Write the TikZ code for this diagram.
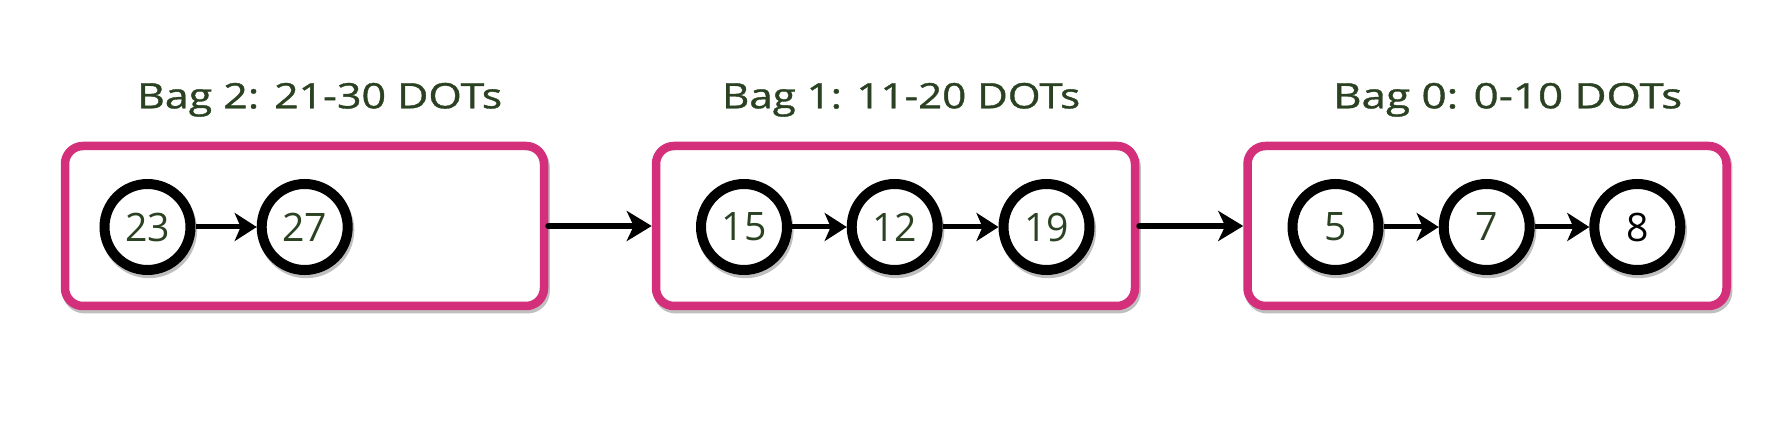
\documentclass[tikz,border=0pt]{standalone}
\usepackage{fontspec}
\setmainfont{Open Sans}
\newfontfamily\bagtitlefont[FakeBold=1]{Open Sans}
\usetikzlibrary{arrows.meta}
\definecolor{bagpink}{HTML}{D42F7A}
\definecolor{txtgreen}{HTML}{2A4222}
\begin{document}
\begin{tikzpicture}[x=0.5pt,y=-0.5pt,
  softshadow/.style={preaction={draw=black, draw opacity=0.25, transform canvas={xshift=0.8pt,yshift=-1.6pt}}},
  bagbox/.style={draw=bagpink, line width=4.25pt, rounded corners=9pt, fill=white,
    minimum width=239.5pt, minimum height=80pt, inner sep=0pt, softshadow},
  dot/.style={circle, draw=black, line width=5pt, fill=white, minimum size=43pt,
    inner sep=0pt, font=\fontsize{19.6}{20}\selectfont, text=txtgreen, softshadow},
  bagtitle/.style={anchor=base west, inner sep=0pt, text=txtgreen, font=\bagtitlefont},
  link/.style={-{Stealth[length=11pt,width=14pt,inset=3pt]}, line width=2.5pt},
  baglink/.style={-{Stealth[length=12.5pt,width=15pt,inset=3.5pt]}, line width=3pt, line cap=round}
]
\useasboundingbox (0,0) rectangle (1788,438);

% titles
\node[bagtitle] (t2) at (136.7,108.3) {\resizebox{182.5pt}{12.7pt}{Bag 2: 21-30 DOTs}};
\node[bagtitle] (t1) at (721.7,108.3) {\resizebox{179pt}{12.7pt}{Bag 1: 11-20 DOTs}};
\node[bagtitle] (t0) at (1332.7,108.3) {\resizebox{174.5pt}{12.7pt}{Bag 0: 0-10 DOTs}};

% bags
\node[bagbox] (b2) at (304.5,226) {};
\node[bagbox] (b1) at (895.5,226) {};
\node[bagbox] (b0) at (1487,226) {};

% items
\node[dot] (n23) at (147.5,227) {23};
\node[dot] (n27) at (304.7,227) {27};
\node[dot] (n15) at (744,227) {15};
\node[dot] (n12) at (894.7,227) {12};
\node[dot] (n19) at (1046.5,227) {19};
\node[dot] (n5) at (1335.5,227) {5};
\node[dot] (n7) at (1486.7,227) {7};
\node[dot, text=black] (n8) at (1637.3,227) {8};

% links
\draw[link] (n23) -- (n27);
\draw[link] (n15) -- (n12);
\draw[link] (n12) -- (n19);
\draw[link] (n5) -- (n7);
\draw[link] (n7) -- (n8);
\draw[baglink] (b2.east) -- (b1.west);
\draw[baglink] (b1.east) -- (b0.west);
\end{tikzpicture}
\end{document}
